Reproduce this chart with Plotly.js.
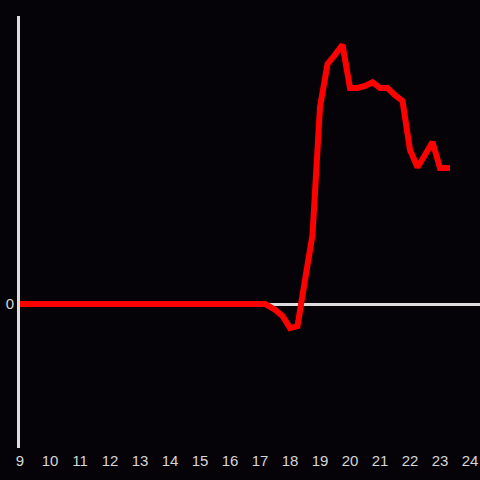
<!DOCTYPE html>
<html>
<head>
<meta charset="utf-8">
<script src="https://cdn.plot.ly/plotly-3.0.1.min.js"></script>
<style>html,body{margin:0;padding:0;background:#050308;}#chart{width:480px;height:480px;}</style>
</head>
<body>
<div id="chart"></div>
<script>
// Hours of the day (15-minute steps) and the plotted values
const hours = [9,9.25,9.5,9.75,10,10.25,10.5,10.75,11,11.25,11.5,11.75,12,12.25,12.5,12.75,13,13.25,13.5,13.75,14,14.25,14.5,14.75,15,15.25,15.5,15.75,16,16.25,16.5,16.75,17,17.17,17.5,17.75,18,18.25,18.5,18.75,19,19.25,19.5,19.75,20,20.25,20.5,20.75,21,21.25,21.5,21.75,22,22.25,22.5,22.75,23,23.33];
const values = [0,0,0,0,0,0,0,0,0,0,0,0,0,0,0,0,0,0,0,0,0,0,0,0,0,0,0,0,0,0,0,0,0,0,-0.04,-0.083,-0.167,-0.153,0.167,0.48,1.368,1.667,1.73,1.80,1.5,1.5,1.514,1.54,1.5,1.5,1.45,1.41,1.07,0.95,1.035,1.125,0.944,0.944];
const xTicks = [9,10,11,12,13,14,15,16,17,18,19,20,21,22,23,24];
const yTicks = [0];

const trace = {
  x: hours, y: values, type: 'scatter', mode: 'lines',
  line: {color: '#ff0000', width: 6},
  hoverinfo: 'none'
};
const layout = {
  width: 480, height: 480,
  paper_bgcolor: '#050308', plot_bgcolor: '#050308',
  margin: {l: 20, r: 0, t: 16, b: 32},
  showlegend: false,
  font: {family: 'Liberation Sans, Arial, sans-serif', size: 15, color: '#d6d6d6'},
  xaxis: {
    range: [9, 24.3333], tickvals: xTicks, ticktext: xTicks.map(String),
    showgrid: false, zeroline: false, showline: false, ticks: '',
    tickfont: {size: 15, color: '#d6d6d6'}, ticklabelstandoff: 2
  },
  yaxis: {
    range: [-1, 2], tickvals: yTicks, ticktext: ['0'],
    showgrid: false, zeroline: true, zerolinecolor: '#dcdcdc', zerolinewidth: 3,
    showline: true, linecolor: '#dcdcdc', linewidth: 3, ticks: '',
    tickfont: {size: 15, color: '#d6d6d6'}, ticklabelstandoff: 0
  }
};
Plotly.newPlot('chart', [trace], layout, {displayModeBar: false, staticPlot: true});
</script>
</body>
</html>
